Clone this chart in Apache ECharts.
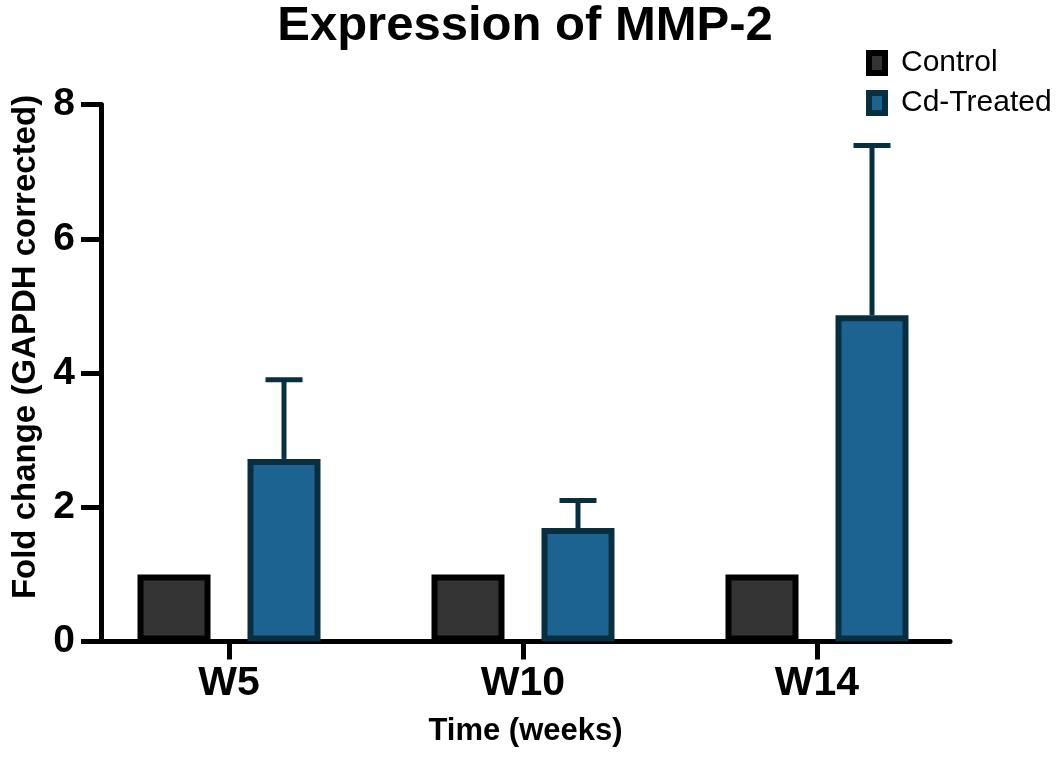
<!DOCTYPE html>
<html>
<head>
<meta charset="utf-8">
<script src="https://cdn.jsdelivr.net/npm/echarts@6/dist/echarts.min.js"></script>
<style>
html,body{margin:0;padding:0;background:#fff;}
#chart{width:1062px;height:757px;}
</style>
</head>
<body>
<div id="chart"></div>
<script>
// ---- data ----
const categories = ['W5', 'W10', 'W14'];
const controlValues = [1.0, 1.0, 1.0];
const treatedValues = [2.72, 1.69, 4.86];
const treatedUpper = [3.90, 2.10, 7.39];
const yTicks = [0, 2, 4, 6, 8];

const FONT = 'Arial, "Liberation Sans", Helvetica, sans-serif';
const chart = echarts.init(document.getElementById('chart'));

const catIdx = categories.map((c, i) => i);
const controlData = controlValues.map((v, i) => [i, v]);
const treatedData = treatedValues.map((v, i) => [i, v]);
const errData = treatedValues.map((v, i) => [i, v, treatedUpper[i]]);

const BAR_W = 73;
const CENTER_DIST = 110;
const BAR_GAP = CENTER_DIST / BAR_W - 1;
const DX = CENTER_DIST / 2;

chart.setOption({
  animation: false,
  backgroundColor: '#ffffff',
  title: {
    text: 'Expression of MMP-2',
    left: 525, top: 2, textAlign: 'center', padding: 0,
    textStyle: { fontFamily: FONT, fontWeight: 'bold', fontSize: 49, color: '#000' }
  },
  legend: {
    orient: 'vertical', left: 861, top: 43, itemGap: 10,
    itemWidth: 16, itemHeight: 20, icon: 'rect',
    data: ['Control', 'Cd-Treated'],
    itemStyle: { borderWidth: 6 },
    textStyle: { fontFamily: FONT, fontSize: 30, color: '#000', padding: [0, 0, 0, 11] }
  },
  grid: { left: 101, right: 112, top: 104.5, bottom: 115.5, containLabel: false },
  xAxis: {
    type: 'value',
    min: -0.4354, max: 2.4524,
    splitLine: { show: false },
    axisLine: { show: true, onZero: false, lineStyle: { color: '#000', width: 5 } },
    axisTick: { show: true, customValues: catIdx, length: 18, inside: false, lineStyle: { color: '#000', width: 5 } },
    axisLabel: {
      customValues: catIdx,
      formatter: v => categories[Math.round(v)],
      fontFamily: FONT, fontWeight: 'bold', fontSize: 41, color: '#000', margin: 22
    },
    name: 'Time (weeks)', nameLocation: 'middle', nameGap: 74,
    nameTextStyle: { fontFamily: FONT, fontWeight: 'bold', fontSize: 31, color: '#000' }
  },
  yAxis: {
    type: 'value', min: yTicks[0], max: yTicks[yTicks.length - 1], interval: 2,
    splitLine: { show: false },
    axisLine: { show: true, onZero: false, lineStyle: { color: '#000', width: 5 } },
    axisTick: { show: true, length: 20, lineStyle: { color: '#000', width: 5 } },
    axisLabel: { fontFamily: FONT, fontWeight: 'bold', fontSize: 39, color: '#000', margin: 26 },
    name: 'Fold change (GAPDH corrected)', nameLocation: 'middle', nameGap: 49,
    nameTextStyle: { fontFamily: FONT, fontWeight: 'bold', fontSize: 33, color: '#000', padding: [0, 0, 0, 52] }
  },
  series: [
    {
      name: 'Control', type: 'bar', data: controlData,
      barWidth: BAR_W, barGap: (BAR_GAP * 100) + '%',
      itemStyle: { color: '#333333', borderColor: '#000000', borderWidth: 6 }
    },
    {
      name: 'Cd-Treated', type: 'bar', data: treatedData,
      barWidth: BAR_W, barGap: (BAR_GAP * 100) + '%',
      itemStyle: { color: '#1d6391', borderColor: '#082f40', borderWidth: 6 }
    },
    {
      name: 'err', type: 'custom', data: errData, z: 1,
      encode: { x: 0, y: [1, 2] },
      renderItem: function (params, api) {
        const x = api.value(0);
        const p0 = api.coord([x, api.value(1)]);
        const p1 = api.coord([x, api.value(2)]);
        const cx = p0[0] + DX;
        const style = { stroke: '#082f40', lineWidth: 5, fill: null };
        return {
          type: 'group',
          children: [
            { type: 'line', shape: { x1: cx, y1: p0[1], x2: cx, y2: p1[1] }, style: style },
            { type: 'line', shape: { x1: cx - 18.5, y1: p1[1], x2: cx + 18.5, y2: p1[1] }, style: style }
          ]
        };
      }
    }
  ]
});
</script>
</body>
</html>
